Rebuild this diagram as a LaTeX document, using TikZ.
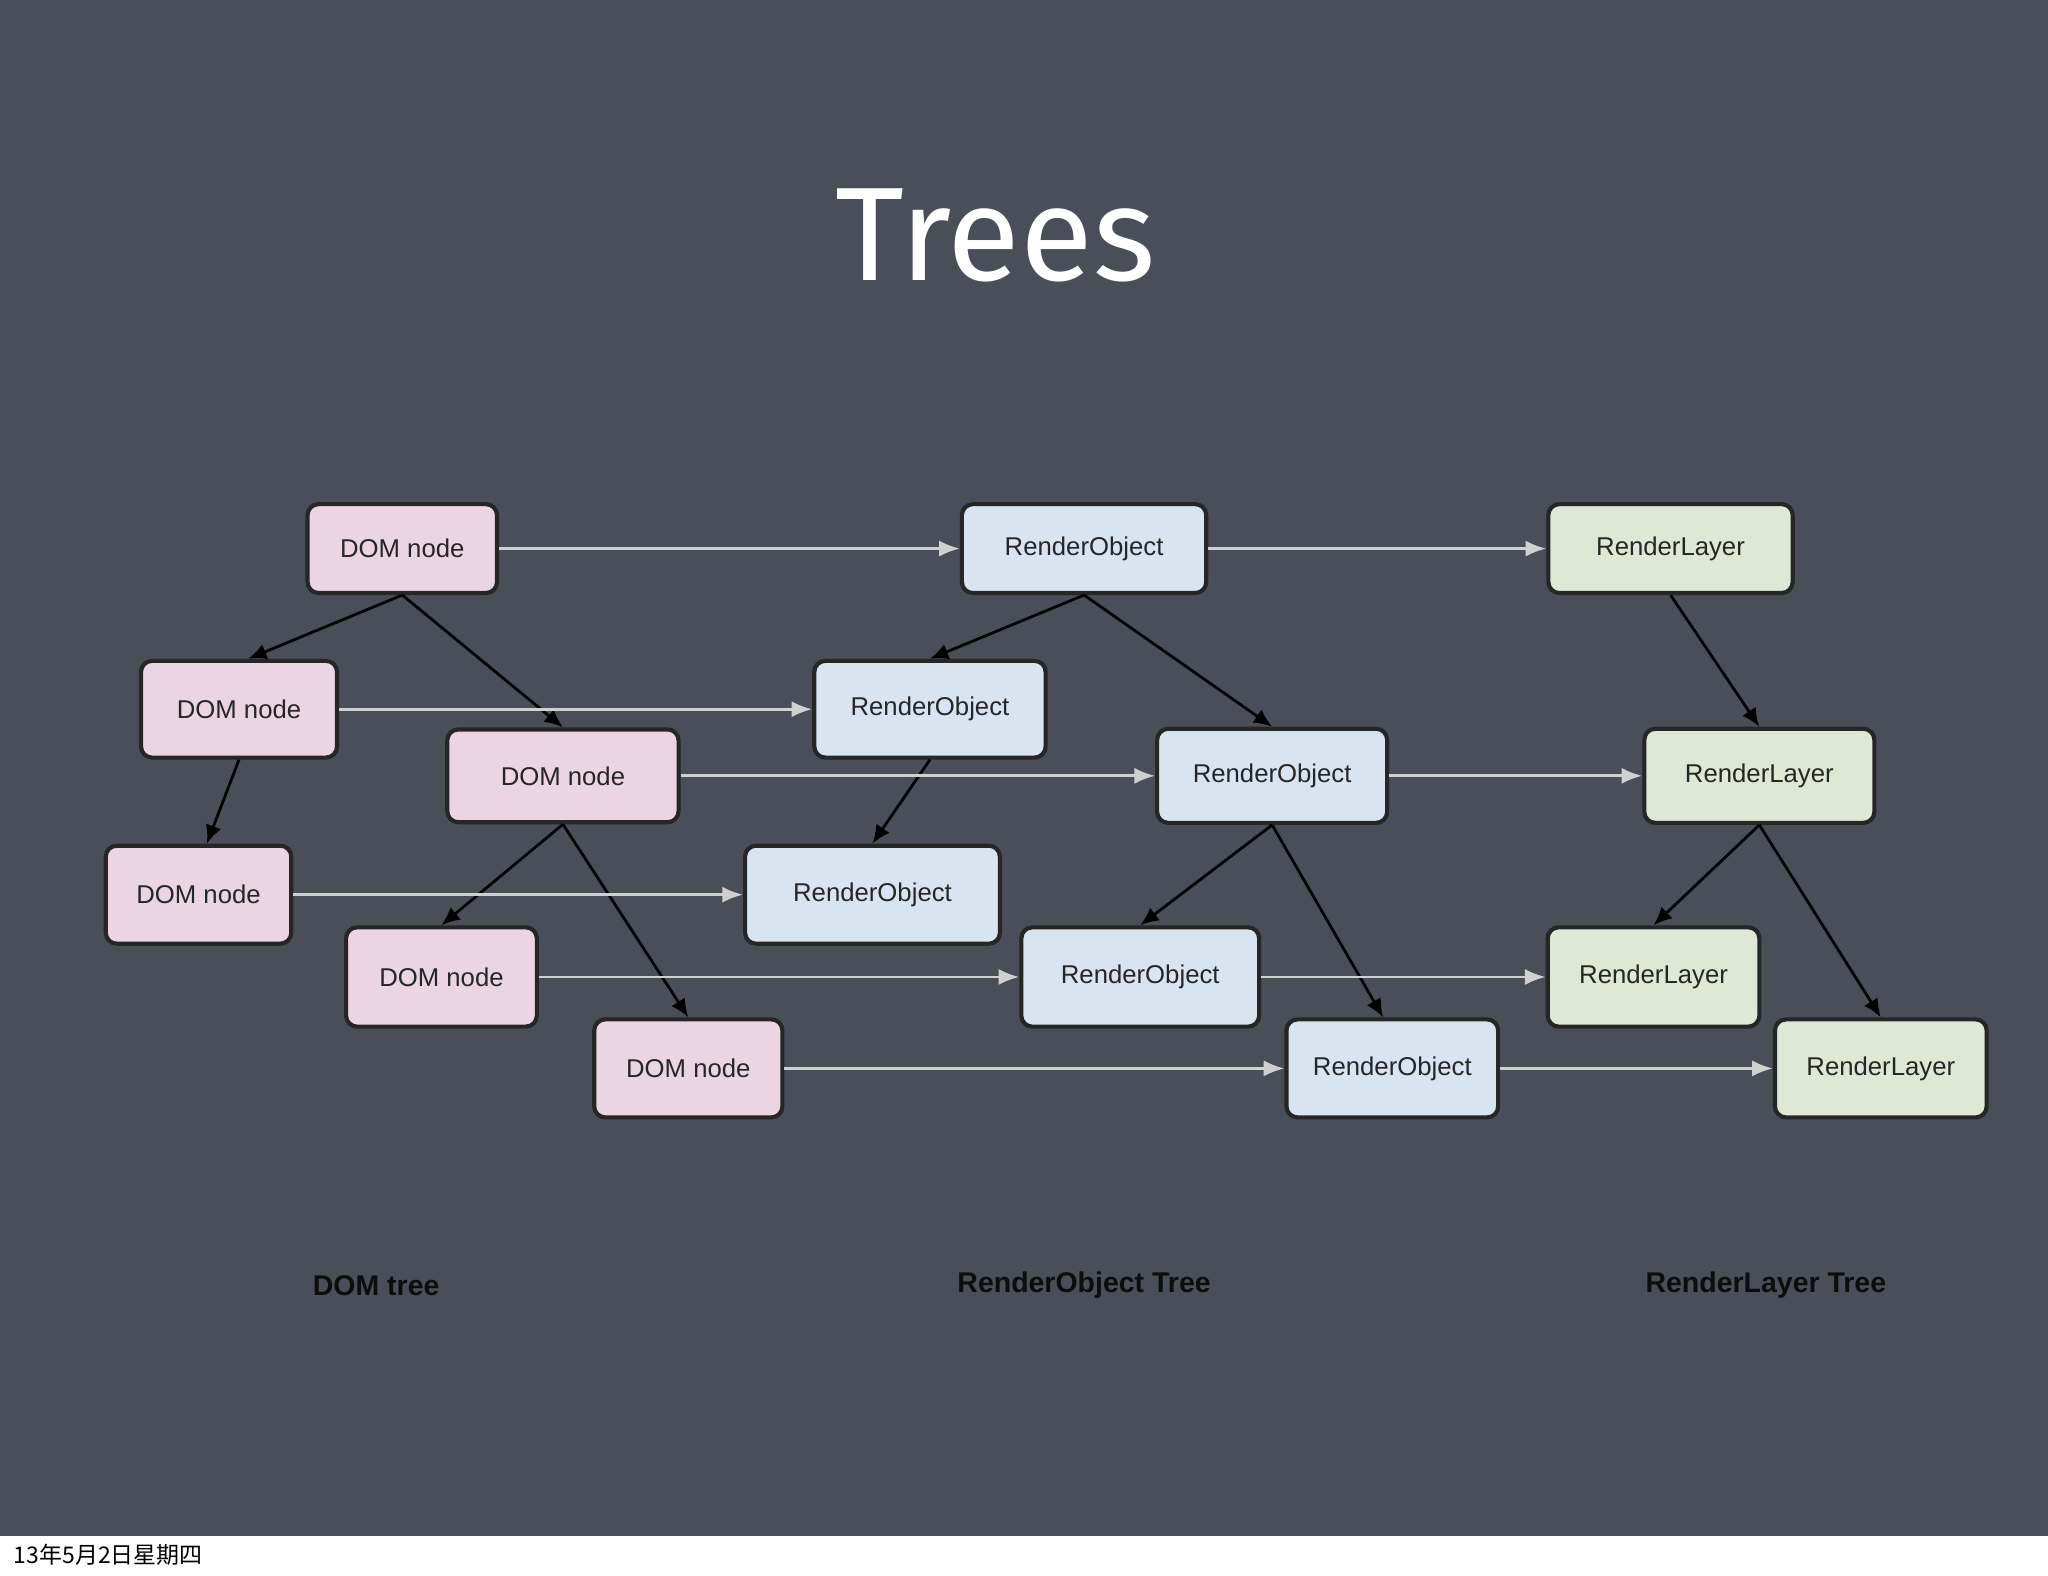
\documentclass[tikz,border=0pt]{standalone}
\usepackage{fontspec}
\setmainfont{Liberation Sans}
\newfontfamily\cjk{Noto Sans CJK SC}
\newfontfamily\titlefont{Fira Sans}
\usetikzlibrary{arrows.meta}
\definecolor{bg}{HTML}{4A4E58}
\definecolor{pinkf}{HTML}{EBD5E2}
\definecolor{bluef}{HTML}{D8E5F1}
\definecolor{greenf}{HTML}{DEE8D5}
\definecolor{edgegray}{HTML}{D0D0D0}
\tikzset{
 box/.style={draw=black!85,line width=0.9pt,rounded corners=2.4pt,minimum height=20pt,inner sep=0pt,font=\fontsize{5.6pt}{7pt}\selectfont,text=black!85},
 dom/.style={box,fill=pinkf},
 ro/.style={box,fill=bluef},
 rl/.style={box,fill=greenf},
 tree/.style={-{Latex[length=4pt,width=3.5pt]},line width=0.6pt,black},
 link/.style={-{Latex[length=4.5pt,width=3.5pt]},line width=0.6pt,edgegray},
 treecaption/.style={font=\bfseries\fontsize{6.2pt}{7pt}\selectfont,text=black!95}
}
\begin{document}
\begin{tikzpicture}[x=0.01cm,y=-0.01cm]
\useasboundingbox (0,0) rectangle (1568,1206);
\fill[white] (0,0) rectangle (1568,1206);
\fill[bg] (0,0) rectangle (1568,1176);
\node[text=white,font=\titlefont\fontsize{29pt}{34pt}\selectfont] (title) at (762,180) {Trees};
\node[dom,minimum width=145*0.2845pt,minimum height=68*0.2845pt] (d1) at (308,420) {DOM node};
\node[dom,minimum width=150*0.2845pt,minimum height=74*0.2845pt] (d2) at (183,543) {DOM node};
\node[dom,minimum width=177*0.2845pt,minimum height=71*0.2845pt] (d3) at (431,594) {DOM node};
\node[dom,minimum width=142*0.2845pt,minimum height=75*0.2845pt] (d4) at (152,685) {DOM node};
\node[dom,minimum width=146*0.2845pt,minimum height=76*0.2845pt] (d5) at (338,748) {DOM node};
\node[dom,minimum width=144*0.2845pt,minimum height=75*0.2845pt] (d6) at (527,818) {DOM node};
\node[ro,minimum width=187*0.2845pt,minimum height=68*0.2845pt] (r1) at (830,420) {RenderObject};
\node[ro,minimum width=177*0.2845pt,minimum height=74*0.2845pt] (r2) at (712,543) {RenderObject};
\node[ro,minimum width=176*0.2845pt,minimum height=72*0.2845pt] (r3) at (974,594) {RenderObject};
\node[ro,minimum width=195*0.2845pt,minimum height=75*0.2845pt] (r4) at (668,685) {RenderObject};
\node[ro,minimum width=182*0.2845pt,minimum height=76*0.2845pt] (r5) at (873,748) {RenderObject};
\node[ro,minimum width=162*0.2845pt,minimum height=75*0.2845pt] (r6) at (1066,818) {RenderObject};
\node[rl,minimum width=187*0.2845pt,minimum height=68*0.2845pt] (l1) at (1279,420) {RenderLayer};
\node[rl,minimum width=176*0.2845pt,minimum height=72*0.2845pt] (l2) at (1347,594) {RenderLayer};
\node[rl,minimum width=162*0.2845pt,minimum height=76*0.2845pt] (l3) at (1266,748) {RenderLayer};
\node[rl,minimum width=162*0.2845pt,minimum height=75*0.2845pt] (l4) at (1440,818) {RenderLayer};
% tree edges
\draw[tree] (d1.south) -- ([xshift=2pt]d2.north);
\draw[tree] (d1.south) -- (d3.north);
\draw[tree] (d2.south) -- ([xshift=-7pt]d2.south |- d4.north);
\draw[tree] (d3.south) -- (d5.north);
\draw[tree] (d3.south) -- (d6.north);
\draw[tree] (r1.south) -- (r2.north);
\draw[tree] (r1.south) -- (r3.north);
\draw[tree] (r2.south) -- (r4.north);
\draw[tree] (r3.south) -- (r5.north);
\draw[tree] (r3.south) -- ([xshift=-2pt]r6.north);
\draw[tree] (l1.south) -- (l2.north);
\draw[tree] (l2.south) -- (l3.north);
\draw[tree] (l2.south) -- (l4.north);
% links
\draw[link] (d1) -- (r1);
\draw[link] (d2) -- (r2);
\draw[link] (d3) -- (r3);
\draw[link] (d4) -- (r4);
\draw[link] (d5) -- (r5);
\draw[link] (d6) -- (r6);
\draw[link] (r1) -- (l1);
\draw[link] (r3) -- (l2);
\draw[link] (r5) -- (l3);
\draw[link] (r6) -- (l4);
\node[treecaption] (c1) at (288,984) {DOM tree};
\node[treecaption] (c2) at (830,984) {RenderObject Tree};
\node[treecaption] (c3) at (1352,984) {RenderLayer Tree};
\node[anchor=west,inner sep=0pt,font=\cjk\fontsize{5pt}{6pt}\selectfont] (date) at (10,1190) {13年5月2日星期四};
\end{tikzpicture}
\end{document}
